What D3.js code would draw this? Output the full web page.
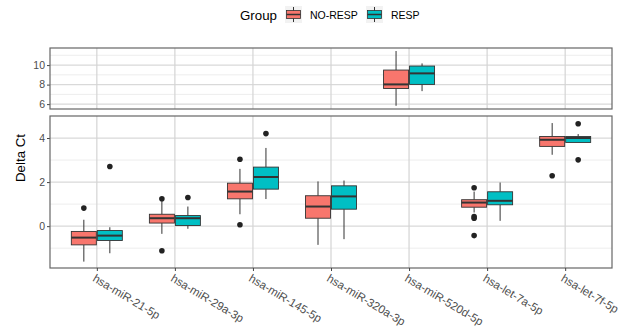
<!DOCTYPE html>
<html>
<head>
<meta charset="utf-8">
<script src="https://cdn.jsdelivr.net/npm/d3@7"></script>
<style>
  body { margin: 0; background: #fff; }
  svg { font-family: "Liberation Sans", Arial, sans-serif; }
</style>
</head>
<body>
<div id="chart"></div>
<script>
"use strict";

const categories = ["hsa-miR-21-5p", "hsa-miR-29a-3p", "hsa-miR-145-5p", "hsa-miR-320a-3p",
  "hsa-miR-520d-5p", "hsa-let-7a-5p", "hsa-let-7f-5p"];
const groups = ["NO-RESP", "RESP"];
const topPanelCats = ["hsa-miR-520d-5p"];

// five-number summaries per category: [lower whisker, q1, median, q3, upper whisker]
const noRespStats = [
  [-1.61, -0.85, -0.52, -0.24, 0.29],
  [-0.35, 0.14, 0.36, 0.54, 1.12],
  [0.54, 1.24, 1.57, 1.95, 2.6],
  [-0.85, 0.36, 0.89, 1.38, 2.03],
  [5.83, 7.6, 8.02, 9.49, 11.44],
  [0.62, 0.86, 1.07, 1.2, 1.57],
  [3.24, 3.62, 3.92, 4.07, 4.68]
];
const respStats = [
  [-1.23, -0.65, -0.43, -0.2, -0.05],
  [-0.12, 0.03, 0.36, 0.48, 0.89],
  [1.23, 1.68, 2.23, 2.68, 3.55],
  [-0.59, 0.77, 1.35, 1.83, 2.07],
  [7.33, 8.02, 9.15, 9.9, 10.17],
  [0.24, 0.97, 1.15, 1.56, 1.98],
  [3.8, 3.8, 4.0, 4.07, 4.18]
];
const noRespOutliers = [[0.82], [1.24, -1.12], [3.04, 0.06], [], [], [1.74, 0.44, 0.36, -0.43], [2.29]];
const respOutliers = [[2.71], [1.3], [4.2], [], [], [], [4.65, 3.01]];

const topTicks = [6, 8, 10];
const topMinor = [7, 9, 11];
const bottomTicks = [0, 2, 4];
const bottomMinor = [-1, 1, 3];

const colors = { "NO-RESP": "#F8766D", "RESP": "#00BFC4" };

const width = 633, height = 332;
const left = 50, right = 612;
const topPanel = { y0: 48, y1: 109, domain: [5.5, 11.75] };
const botPanel = { y0: 116, y1: 268, domain: [-1.9, 5.0] };

const svg = d3.select("#chart").append("svg")
  .attr("width", width)
  .attr("height", height);

const x = d3.scalePoint().domain(categories).range([left, right]).padding(0.6);
const xGroup = d3.scaleBand().domain(groups).range([-26, 26]);
const boxW = 25;

const yTop = d3.scaleLinear().domain(topPanel.domain).range([topPanel.y1, topPanel.y0]);
const yBot = d3.scaleLinear().domain(botPanel.domain).range([botPanel.y1, botPanel.y0]);

// build box records
const boxes = [];
categories.forEach((c, i) => {
  groups.forEach(g => {
    const s = g === "NO-RESP" ? noRespStats[i] : respStats[i];
    const o = g === "NO-RESP" ? noRespOutliers[i] : respOutliers[i];
    boxes.push({ cat: c, group: g, lo: s[0], q1: s[1], med: s[2], q3: s[3], hi: s[4], out: o,
      top: topPanelCats.includes(c) });
  });
});

function drawPanel(p, y, ticks, minor, isTop) {
  const g = svg.append("g");
  g.append("rect")
    .attr("x", left).attr("y", p.y0)
    .attr("width", right - left).attr("height", p.y1 - p.y0)
    .attr("fill", "#fff");
  g.selectAll(".minor").data(minor).enter().append("line")
    .attr("x1", left).attr("x2", right)
    .attr("y1", d => y(d)).attr("y2", d => y(d))
    .attr("stroke", "#e8e8e8").attr("stroke-width", 0.8);
  g.selectAll(".major").data(ticks).enter().append("line")
    .attr("x1", left).attr("x2", right)
    .attr("y1", d => y(d)).attr("y2", d => y(d))
    .attr("stroke", "#d9d9d9").attr("stroke-width", 1.2);
  g.selectAll(".vgrid").data(categories).enter().append("line")
    .attr("x1", d => x(d)).attr("x2", d => x(d))
    .attr("y1", p.y0).attr("y2", p.y1)
    .attr("stroke", "#d4d4d4").attr("stroke-width", 1.2);

  const yAxis = d3.axisLeft(y).tickValues(ticks).tickFormat(d3.format("d")).tickSize(3).tickPadding(2);
  const ax = g.append("g").attr("transform", `translate(${left},0)`).call(yAxis);
  ax.select(".domain").remove();
  ax.selectAll(".tick line").attr("stroke", "#444");
  ax.selectAll(".tick text").attr("fill", "#4d4d4d").style("font-size", "10.5px");

  const data = boxes.filter(b => b.top === isTop);
  const bx = d => x(d.cat) + xGroup(d.group) + xGroup.bandwidth() / 2;

  const bg = g.selectAll(".box").data(data).enter().append("g");
  bg.append("line")
    .attr("x1", bx).attr("x2", bx)
    .attr("y1", d => y(d.hi)).attr("y2", d => y(d.q3))
    .attr("stroke", "#333").attr("stroke-width", 1);
  bg.append("line")
    .attr("x1", bx).attr("x2", bx)
    .attr("y1", d => y(d.q1)).attr("y2", d => y(d.lo))
    .attr("stroke", "#333").attr("stroke-width", 1);
  bg.append("rect")
    .attr("x", d => bx(d) - boxW / 2)
    .attr("y", d => y(d.q3))
    .attr("width", boxW)
    .attr("height", d => Math.max(1, y(d.q1) - y(d.q3)))
    .attr("fill", d => colors[d.group])
    .attr("stroke", "#333").attr("stroke-width", 0.9);
  bg.append("line")
    .attr("x1", d => bx(d) - boxW / 2).attr("x2", d => bx(d) + boxW / 2)
    .attr("y1", d => y(d.med)).attr("y2", d => y(d.med))
    .attr("stroke", "#333").attr("stroke-width", 2);
  bg.selectAll("circle").data(d => d.out.map(v => ({ v, cx: bx(d) }))).enter().append("circle")
    .attr("cx", d => d.cx).attr("cy", d => y(d.v))
    .attr("r", 2.8).attr("fill", "#222");

  g.append("rect")
    .attr("x", left).attr("y", p.y0)
    .attr("width", right - left).attr("height", p.y1 - p.y0)
    .attr("fill", "none").attr("stroke", "#666").attr("stroke-width", 1.2);
}

drawPanel(topPanel, yTop, topTicks, topMinor, true);
drawPanel(botPanel, yBot, bottomTicks, bottomMinor, false);

// x axis
const xAxis = d3.axisBottom(x).tickSize(3).tickPadding(2);
const xa = svg.append("g").attr("transform", `translate(0,${botPanel.y1})`).call(xAxis);
xa.select(".domain").remove();
xa.selectAll(".tick line").attr("stroke", "#444");
xa.selectAll(".tick text")
  .attr("fill", "#4d4d4d")
  .style("font-size", "11.5px")
  .attr("text-anchor", "start")
  .attr("x", 0).attr("y", 0)
  .attr("dy", "0.75em")
  .attr("transform", "translate(-1,5) rotate(31)");

// y label
svg.append("text")
  .attr("transform", `translate(25,${(topPanel.y0 + botPanel.y1) / 2}) rotate(-90)`)
  .attr("text-anchor", "middle")
  .style("font-size", "13.3px")
  .attr("fill", "#000")
  .text("Delta Ct");

// legend
const legend = svg.append("g").attr("transform", "translate(240,0)");
legend.append("text")
  .attr("x", 0).attr("y", 20)
  .style("font-size", "13.3px").attr("fill", "#000")
  .text("Group");

const legendPos = { "NO-RESP": 45, "RESP": 126 };
groups.forEach(gname => {
  const k = legend.append("g").attr("transform", `translate(${legendPos[gname]},6)`);
  k.append("rect").attr("width", 17).attr("height", 17).attr("fill", "#f2f2f2");
  k.append("line").attr("x1", 8.5).attr("x2", 8.5).attr("y1", 1).attr("y2", 16)
    .attr("stroke", "#333").attr("stroke-width", 1);
  k.append("rect").attr("x", 1.5).attr("y", 4.5).attr("width", 14).attr("height", 8)
    .attr("fill", colors[gname]).attr("stroke", "#333").attr("stroke-width", 0.8);
  k.append("line").attr("x1", 1.5).attr("x2", 15.5).attr("y1", 8.5).attr("y2", 8.5)
    .attr("stroke", "#333").attr("stroke-width", 1.5);
  k.append("text").attr("x", 25).attr("y", 13)
    .style("font-size", "10.5px").attr("fill", "#000")
    .text(gname);
});
</script>
</body>
</html>
